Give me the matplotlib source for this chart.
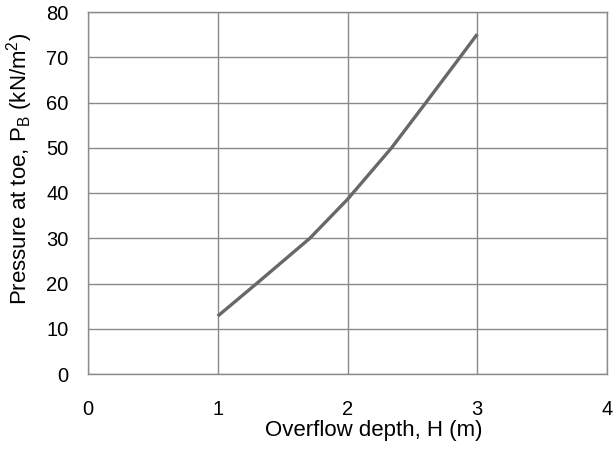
import matplotlib
matplotlib.use("Agg")
import matplotlib.pyplot as plt

H = [1.0, 1.30, 1.71, 2.0, 2.34, 2.605, 2.867, 3.0]
P = [12.8, 20.0, 30.0, 38.6, 50.0, 60.0, 70.0, 75.1]
xticks = [0, 1, 2, 3, 4]
yticks = [0, 10, 20, 30, 40, 50, 60, 70, 80]

plt.rcParams['font.family'] = ['Liberation Sans', 'DejaVu Sans']
fig = plt.figure(figsize=(6.13, 4.53), dpi=100)
ax = fig.add_axes([88/613, 79/453, (607-88)/613, (374-12)/453])
ax.plot(H, P, color='#686868', lw=2.4, solid_capstyle='butt', solid_joinstyle='round', zorder=3)
ax.set_xlim(0, 4)
ax.set_ylim(0, 80)
ax.set_xticks(xticks)
ax.set_yticks(yticks)
ax.grid(True, color='#8a8a8a', lw=1.0)
for s in ax.spines.values():
    s.set_color('#8a8a8a')
    s.set_linewidth(1.0)
ax.tick_params(length=0, labelsize=14.5, colors='#000000')
ax.tick_params(axis='x', pad=18.5)
ax.tick_params(axis='y', pad=14)
ax.set_xlabel('Overflow depth, H (m)', fontsize=16)
ax.xaxis.set_label_coords((373.5-88)/519, (374-420)/362)
ax.set_ylabel(r'Pressure at toe, P$_\mathregular{B}$ (kN/m$^\mathregular{2}$)', fontsize=16)
ax.yaxis.set_label_coords((35-88)/519, (374-168.5)/362)
fig.savefig('out.png', dpi=100)
